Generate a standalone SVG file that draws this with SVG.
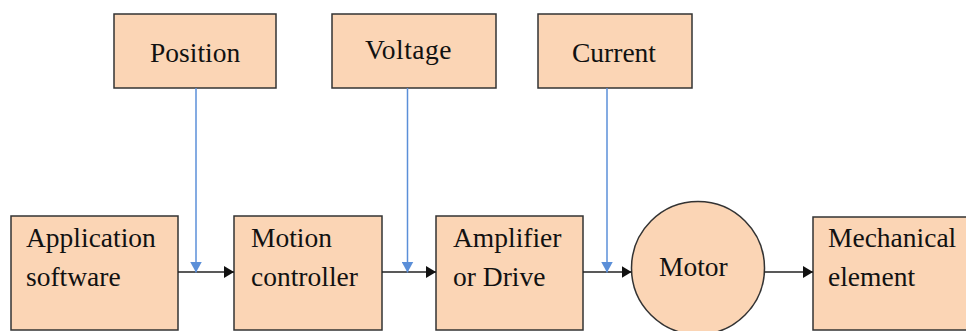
<svg xmlns="http://www.w3.org/2000/svg" width="966" height="331" viewBox="0 0 966 331">
<style>
.box{fill:#fbd5b5;stroke:#333;stroke-width:1.5}
.t{font-family:'Liberation Serif','Times New Roman',serif;font-size:27.5px;fill:#111}
.blk{stroke:#222;stroke-width:1.5;fill:none}
.blu{stroke:#5b8fd8;stroke-width:1.5;fill:none}
</style>
<defs>
<marker id="ab" viewBox="0 0 10 12" refX="10" refY="6" markerWidth="10" markerHeight="12" markerUnits="userSpaceOnUse" orient="auto"><path d="M0,0 L10,6 L0,12 Z" fill="#111"/></marker>
<marker id="au" viewBox="0 0 11 12" refX="11" refY="6" markerWidth="11" markerHeight="12" markerUnits="userSpaceOnUse" orient="auto"><path d="M0,0 L11,6 L0,12 Z" fill="#5b8fd8"/></marker>
</defs>
<rect width="966" height="331" fill="#fff"/>
<g id="position"><rect class="box" x="114" y="14" width="162" height="74"/><text class="t" x="150" y="62">Position</text></g>
<g id="voltage"><rect class="box" x="332" y="14" width="164" height="74"/><text class="t" x="365" y="59" letter-spacing="0.5">Voltage</text></g>
<g id="current"><rect class="box" x="538" y="14" width="154" height="74"/><text class="t" x="572" y="62">Current</text></g>
<g id="app"><rect class="box" x="11" y="216" width="167" height="114"/><text class="t" x="26" y="247">Application</text><text class="t" x="26" y="286">software</text></g>
<g id="motion"><rect class="box" x="234" y="216" width="148" height="114"/><text class="t" x="251" y="247">Motion</text><text class="t" x="251" y="286">controller</text></g>
<g id="amp"><rect class="box" x="436" y="216" width="147" height="114"/><text class="t" x="453" y="247">Amplifier</text><text class="t" x="453" y="286">or Drive</text></g>
<g id="motor"><circle class="box" cx="698" cy="268" r="66.5"/><text class="t" x="659" y="276">Motor</text></g>
<g id="mech"><rect class="box" x="813" y="217" width="160" height="113"/><text class="t" x="828" y="247">Mechanical</text><text class="t" x="828" y="286">element</text></g>
<g id="connectors">
<line class="blk" x1="178" y1="272" x2="234" y2="272" marker-end="url(#ab)"/>
<line class="blk" x1="382" y1="272" x2="436" y2="272" marker-end="url(#ab)"/>
<line class="blk" x1="583" y1="272" x2="631.5" y2="272" marker-end="url(#ab)"/>
<line class="blk" x1="764.5" y1="272" x2="813" y2="272" marker-end="url(#ab)"/>
<line class="blu" x1="196" y1="88" x2="196" y2="272.5" marker-end="url(#au)"/>
<line class="blu" x1="407.5" y1="88" x2="407.5" y2="272.5" marker-end="url(#au)"/>
<line class="blu" x1="607" y1="88" x2="607" y2="272.5" marker-end="url(#au)"/>
</g>
</svg>
